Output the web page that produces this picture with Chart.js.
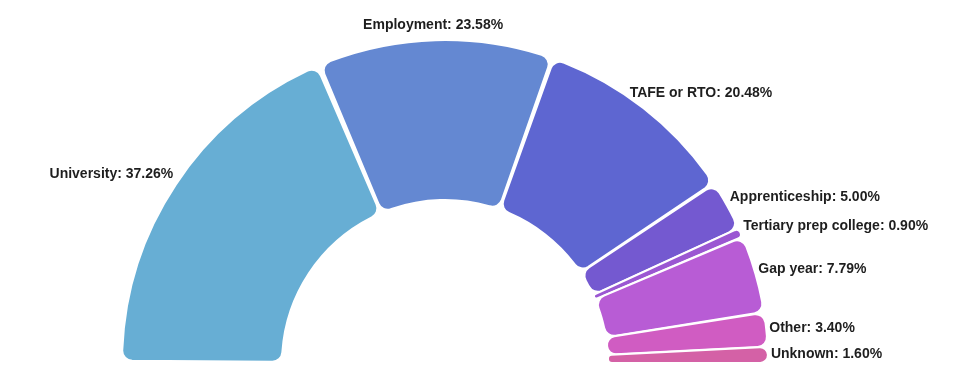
<!DOCTYPE html>
<html>
<head>
<meta charset="utf-8">
<script src="https://cdn.jsdelivr.net/npm/chart.js@4/dist/chart.umd.min.js"></script>
<style>
  html, body { margin: 0; padding: 0; background: #ffffff; }
  #wrap { width: 960px; height: 381px; }
</style>
</head>
<body>
<div id="wrap"><canvas id="pathways"></canvas></div>
<script>
const categories = [
  "University",
  "Employment",
  "TAFE or RTO",
  "Apprenticeship",
  "Tertiary prep college",
  "Gap year",
  "Other",
  "Unknown",
];
const shares = [37.26, 23.58, 20.48, 5.0, 0.9, 7.79, 3.4, 1.6];
const colours = [
  "#67aed4",
  "#6488d2",
  "#5e66d1",
  "#7459d0",
  "#9b57d2",
  "#b85cd5",
  "#d05cc2",
  "#d461a6",
];

// draws "Label: xx.xx%" outside each arc, like datalabels anchor/align "end"
const outsideLabels = {
  id: "outsideLabels",
  afterDatasetsDraw(chart) {
    const ctx = chart.ctx;
    const meta = chart.getDatasetMeta(0);
    const offset = 6;
    ctx.save();
    ctx.font = "bold 14px 'Liberation Sans', Arial, sans-serif";
    ctx.fillStyle = "#1e1e1e";
    ctx.textAlign = "center";
    ctx.textBaseline = "middle";
    meta.data.forEach((arc, i) => {
      const { x, y, startAngle, endAngle, outerRadius } = arc.getProps(
        ["x", "y", "startAngle", "endAngle", "outerRadius"],
        true
      );
      const mid = (startAngle + endAngle) / 2;
      const vx = Math.cos(mid);
      const vy = Math.sin(mid);
      const ax = x + vx * outerRadius;
      const ay = y + vy * outerRadius;
      const text = categories[i] + ": " + shares[i].toFixed(2) + "%";
      const w = ctx.measureText(text).width;
      const h = 25; // line height + padding
      const vs = 1 / Math.max(Math.abs(vx), Math.abs(vy));
      const dx = (w / 2) * vx * vs + offset * vx;
      const dy = (h / 2) * vy * vs + offset * vy;
      ctx.fillText(text, ax + dx, ay + dy);
    });
    ctx.restore();
  },
};

const config = {
  type: "doughnut",
  data: {
    labels: categories,
    datasets: [
      {
        data: shares,
        backgroundColor: colours,
        borderColor: "#ffffff",
        borderWidth: 2,
        borderRadius: 10,
        spacing: 6,
      },
    ],
  },
  options: {
    responsive: true,
    maintainAspectRatio: false,
    animation: false,
    rotation: -90,
    circumference: 180,
    cutout: "50%",
    layout: {
      padding: { top: 39, bottom: 14, left: 60, right: 130 },
    },
    plugins: {
      legend: { display: false },
      tooltip: { enabled: false },
      title: { display: false },
    },
  },
  plugins: [outsideLabels],
};

new Chart(document.getElementById("pathways"), config);
</script>
</body>
</html>
